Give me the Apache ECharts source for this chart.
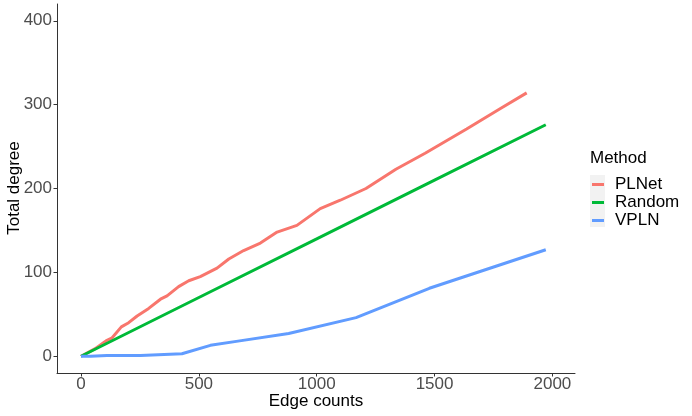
<!DOCTYPE html>
<html>
<head>
<meta charset="utf-8">
<script src="https://cdn.jsdelivr.net/npm/echarts@6/dist/echarts.min.js"></script>
<style>html,body{margin:0;padding:0;background:#fff}#c{width:692px;height:416px}</style>
</head>
<body>
<div id="c"></div>
<script>
const seriesNames = ['PLNet', 'Random', 'VPLN'];
const colors = ['#F8766D', '#00BA38', '#619CFF'];
const xTicks = [0, 500, 1000, 1500, 2000];
const yTicks = [0, 100, 200, 300, 400];
const xTitle = 'Edge counts';
const yTitle = 'Total degree';
const legendTitle = 'Method';

const plnet = [[0,0],[60,9],[110,19],[132,22],[171,35],[202,40],[238,48],[287,57],[337,68],[365,72],[414,83],[457,90],[506,95],[577,105],[627,116],[690,126],[761,135],[832,148],[916,156],[1015,176],[1100,186],[1209,200],[1336,223],[1460,242],[1636,271],[1778,295],[1891,314]];
const random = [[0,0],[500,70],[1000,140],[1500,210],[1972,276]];
const vpln = [[0,0],[40,0],[110,1],[252,1],[428,3],[549,13],[666,18],[881,27],[1167,46],[1478,81],[1972,127]];

const chart = echarts.init(document.getElementById('c'));
const font = 'Liberation Sans, Arial, sans-serif';
const lineW = 3;
chart.setOption({
  animation: false,
  backgroundColor: '#fff',
  grid: {left: 57, right: 117, top: 4, bottom: 43, containLabel: false, outerBoundsMode: 'none'},
  xAxis: {
    type: 'value', min: -102, max: 2096,
    axisLine: {show: true, onZero: false, lineStyle: {color: '#333', width: 1}},
    axisTick: {show: true, length: 3.5, customValues: xTicks, lineStyle: {color: '#333'}},
    axisLabel: {customValues: xTicks, formatter: v => String(v), color: '#4d4d4d', fontSize: 17, fontFamily: font, margin: 3},
    splitLine: {show: false}
  },
  yAxis: {
    type: 'value', min: -20, max: 420,
    axisLine: {show: true, onZero: false, lineStyle: {color: '#333', width: 1}},
    axisTick: {show: true, length: 3.5, customValues: yTicks, lineStyle: {color: '#333'}},
    axisLabel: {customValues: yTicks, formatter: v => String(v), color: '#4d4d4d', fontSize: 17, fontFamily: font, margin: 5},
    splitLine: {show: false}
  },
  legend: {
    orient: 'vertical', left: 592, top: 176, padding: 0,
    itemWidth: 12, itemHeight: 3, itemGap: 1,
    icon: 'rect',
    textStyle: {color: '#000', fontSize: 17, fontFamily: font, padding: [0,0,0,6]},
    data: seriesNames
  },
  graphic: [
    {type: 'rect', left: 590, top: 175, shape: {width: 15, height: 52}, style: {fill: '#f2f2f2'}, z: -1},
    {type: 'text', left: 590, top: 150, style: {text: legendTitle, fill: '#000', fontSize: 17, fontFamily: font}},
    {type: 'text', x: 316, y: 401, style: {text: xTitle, fill: '#000', fontSize: 17, fontFamily: font, align: 'center', verticalAlign: 'middle'}},
    {type: 'text', x: 14, y: 188, rotation: Math.PI / 2, style: {text: yTitle, fill: '#000', fontSize: 17, fontFamily: font, align: 'center', verticalAlign: 'middle'}}
  ],
  series: [
    {name: seriesNames[0], type: 'line', data: plnet, showSymbol: false, color: colors[0], lineStyle: {width: lineW, color: colors[0]}},
    {name: seriesNames[1], type: 'line', data: random, showSymbol: false, color: colors[1], lineStyle: {width: lineW, color: colors[1]}},
    {name: seriesNames[2], type: 'line', data: vpln, showSymbol: false, color: colors[2], lineStyle: {width: lineW, color: colors[2]}}
  ]
});
</script>
</body>
</html>
